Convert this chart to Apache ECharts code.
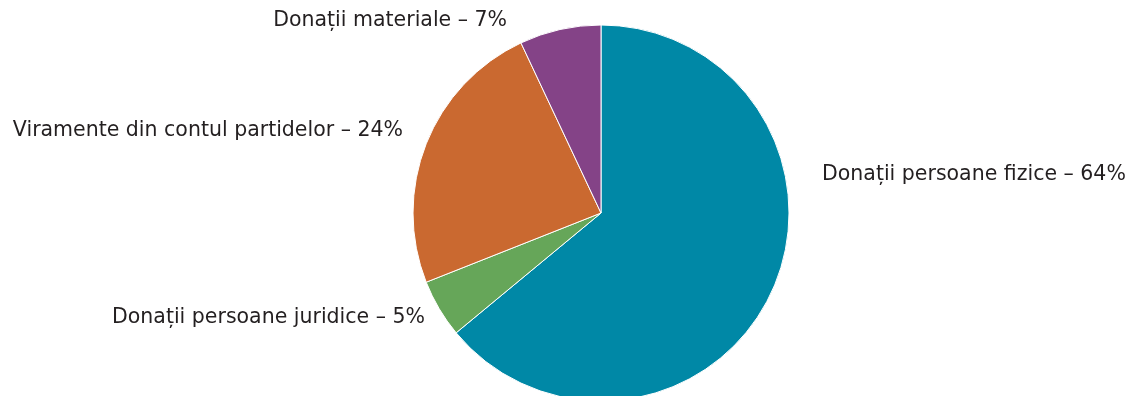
<!DOCTYPE html>
<html>
<head>
<meta charset="utf-8">
<script src="https://cdn.jsdelivr.net/npm/echarts@6/dist/echarts.min.js"></script>
<style>
  html, body { margin: 0; padding: 0; background: #fff; }
  #chart { width: 1125px; height: 396px; }
</style>
</head>
<body>
<div id="chart"></div>
<script>
// categories and shares (percent), clockwise from 12 o'clock
const categories = [
  'Donații persoane fizice',
  'Donații persoane juridice',
  'Viramente din contul partidelor',
  'Donații materiale'
]
const shares = [64, 5, 24, 7]
const colors = ['#0088a6', '#66a659', '#ca6930', '#844387']

// where each label sits (label layout only, not data)
const labelSpots = [
  { x: 822, y: 175, align: 'left' },
  { x: 425, y: 318, align: 'right' },
  { x: 403, y: 131, align: 'right' },
  { x: 507, y: 21, align: 'right' }
]

const chart = echarts.init(document.getElementById('chart'))

const option = {
  animation: false,
  color: colors,
  series: [{
    type: 'pie',
    center: [601, 213],
    radius: 188,
    startAngle: 90,
    clockwise: true,
    avoidLabelOverlap: false,
    itemStyle: {
      borderColor: '#fff',
      borderWidth: 1
    },
    label: {
      show: true,
      position: 'outside',
      formatter: p => p.name + ' – ' + p.value + '%',
      fontFamily: '"DejaVu Sans", sans-serif',
      fontSize: 20.5,
      color: '#231f20'
    },
    labelLine: { show: false },
    labelLayout: params => {
      const s = labelSpots[params.dataIndex]
      return { x: s.x, y: s.y, align: s.align, verticalAlign: 'middle' }
    },
    emphasis: { disabled: true },
    data: categories.map((name, i) => ({ name, value: shares[i] }))
  }]
}

chart.setOption(option)
</script>
</body>
</html>
